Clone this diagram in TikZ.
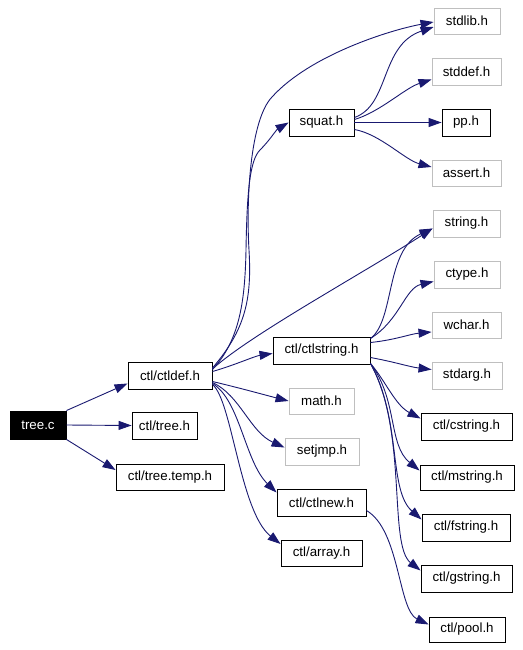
\documentclass[tikz,border=0pt]{standalone}
\usepackage{fontspec}
\setmainfont{Liberation Sans}
\usetikzlibrary{arrows.meta,calc}
\definecolor{edgecol}{HTML}{191970}
\definecolor{graybd}{HTML}{BFBFBF}
\begin{document}
\begin{tikzpicture}[x=1pt,y=-1pt,
 box/.style={draw=black,line width=0.9pt,inner sep=0pt,font=\fontsize{13.3}{15}\selectfont,text=black},
 ext/.style={box,draw=graybd},
 root/.style={box,fill=black,text=white},
 dep/.style={draw=edgecol,line width=0.9pt,-{Triangle[length=13pt,width=9pt]}}]
\useasboundingbox (0,0) rectangle (522,650);
% nodes
\node[root,minimum width=56pt,minimum height=28pt] (treec) at (38,425) {tree.c};
\node[box,minimum width=84pt,minimum height=27pt] (ctldef) at (170,375.5) {ctl/ctldef.h};
\node[box,minimum width=65pt,minimum height=27pt] (ctltree) at (164.5,425.5) {ctl/tree.h};
\node[box,minimum width=108pt,minimum height=26pt] (treetemp) at (170,477) {ctl/tree.temp.h};
\node[box,minimum width=65pt,minimum height=27pt] (squat) at (321.5,122.5) {squat.h};
\node[ext,minimum width=66pt,minimum height=26pt] (stdlib) at (467,21) {stdlib.h};
\node[ext,minimum width=69pt,minimum height=27pt] (stddef) at (466.5,71.5) {stddef.h};
\node[box,minimum width=48pt,minimum height=27pt] (pp) at (466,122.5) {pp.h};
\node[ext,minimum width=69pt,minimum height=26pt] (assert) at (466.5,173) {assert.h};
\node[ext,minimum width=67pt,minimum height=27pt] (string) at (466.5,223.5) {string.h};
\node[ext,minimum width=66pt,minimum height=27pt] (ctype) at (467,274.5) {ctype.h};
\node[ext,minimum width=69pt,minimum height=26pt] (wchar) at (466.5,325) {wchar.h};
\node[ext,minimum width=70pt,minimum height=27pt] (stdarg) at (467,375.5) {stdarg.h};
\node[box,minimum width=97pt,minimum height=27pt] (ctlstring) at (321.5,350.5) {ctl/ctlstring.h};
\node[ext,minimum width=65pt,minimum height=26pt] (math) at (321.5,401) {math.h};
\node[ext,minimum width=74pt,minimum height=27pt] (setjmp) at (322,451.5) {setjmp.h};
\node[box,minimum width=89pt,minimum height=27pt] (ctlnew) at (321.5,502.5) {ctl/ctlnew.h};
\node[box,minimum width=81pt,minimum height=26pt] (array) at (321.5,553) {ctl/array.h};
\node[box,minimum width=91pt,minimum height=27pt] (cstring) at (466.5,426.5) {ctl/cstring.h};
\node[box,minimum width=94pt,minimum height=25pt] (mstring) at (467,477.5) {ctl/mstring.h};
\node[box,minimum width=88pt,minimum height=27pt] (fstring) at (466,527.5) {ctl/fstring.h};
\node[box,minimum width=91pt,minimum height=27pt] (gstring) at (466.5,578.5) {ctl/gstring.h};
\node[box,minimum width=76pt,minimum height=25pt] (pool) at (467,629.5) {ctl/pool.h};
% edges from tree.c
\draw[dep] (treec.north east) -- ([yshift=-8pt]ctldef.west);
\draw[dep] (treec.east) -- (ctltree.west);
\draw[dep] (treec.south east) -- ([yshift=7pt]treetemp.west);
% edges from ctldef
\draw[dep] ([yshift=7.5pt]ctldef.east) .. controls (245,330) and (252,300) .. (249,250)
  .. controls (246,200) and (250,120) .. (272,97) .. controls (310,55) and (390,30) .. ([yshift=-1pt]stdlib.west);
\draw[dep] ([yshift=6pt]ctldef.east) .. controls (240,340) and (245,300) .. (246,250)
  .. controls (247,190) and (250,160) .. (260,150) .. controls (270,140) and (276,130) .. (squat.west);
\draw[dep] ([yshift=6.5pt]ctldef.east) .. controls (250,335) and (360,275) .. ([yshift=-5pt]string.west);
\draw[dep] ([yshift=4pt]ctldef.east) .. controls (235,365) and (255,356) .. ([yshift=-3pt]ctlstring.west);
\draw[dep] ([yshift=-6pt]ctldef.east) .. controls (240,388) and (265,395) .. (math.west);
\draw[dep] ([yshift=-7pt]ctldef.east) .. controls (240,395) and (250,432) .. ([yshift=4pt]setjmp.west);
\draw[dep] ([yshift=-8pt]ctldef.east) .. controls (240,400) and (245,462) .. ([yshift=10pt]ctlnew.west);
\draw[dep] ([yshift=-9pt]ctldef.east) .. controls (232,400) and (240,512) .. ([yshift=9pt]array.west);
% edges from squat
\draw[dep] ([yshift=5pt]squat.east) .. controls (390,105) and (380,45) .. ([yshift=-6pt]stdlib.west);
\draw[dep] ([yshift=3pt]squat.east) .. controls (380,112) and (405,88) .. ([yshift=-8pt]stddef.west);
\draw[dep] (squat.east) -- (pp.west);
\draw[dep] ([yshift=-7pt]squat.east) .. controls (380,134) and (405,160) .. ([yshift=6pt]assert.west);
% edges from ctlstring
\draw[dep] ([yshift=12pt]ctlstring.east) .. controls (395,320) and (385,250) .. ([yshift=-5pt]string.west);
\draw[dep] ([yshift=12pt]ctlstring.east) .. controls (400,320) and (405,288) .. ([yshift=-7pt]ctype.west);
\draw[dep] ([yshift=8pt]ctlstring.east) .. controls (395,340) and (410,334) .. ([yshift=-7pt]wchar.west);
\draw[dep] ([yshift=-7pt]ctlstring.east) .. controls (395,362) and (410,367) .. ([yshift=6pt]stdarg.west);
\draw[dep] ([yshift=-13pt]ctlstring.east) .. controls (385,380) and (395,405) .. ([yshift=8pt]cstring.west);
\draw[dep] ([yshift=-13pt]ctlstring.east) .. controls (398,400) and (388,445) .. ([yshift=7pt]mstring.west);
\draw[dep] ([yshift=-13pt]ctlstring.east) .. controls (402,420) and (388,490) .. ([yshift=8pt]fstring.west);
\draw[dep] ([yshift=-13pt]ctlstring.east) .. controls (408,430) and (388,545) .. ([yshift=8pt]gstring.west);
% ctlnew -> pool
\draw[dep] ([yshift=-8pt]ctlnew.east) .. controls (400,530) and (398,610) .. ([yshift=5pt]pool.west);
\end{tikzpicture}
\end{document}
